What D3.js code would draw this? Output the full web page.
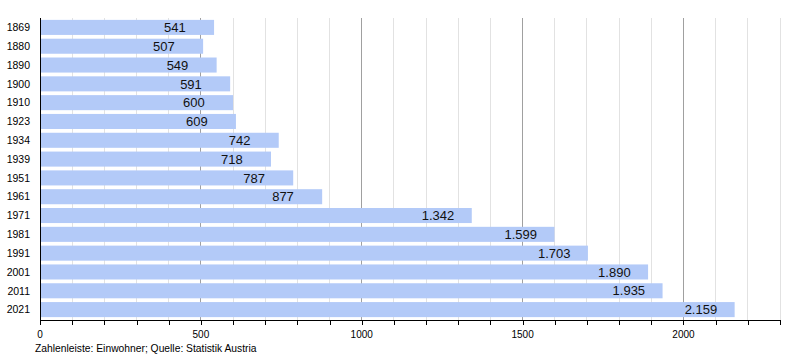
<!DOCTYPE html>
<html><head><meta charset="utf-8">
<script src="https://cdn.jsdelivr.net/npm/d3@7"></script>
<style>body{margin:0;background:#fff}svg{display:block;font-family:"Liberation Sans",Arial,sans-serif}</style>
</head><body><svg id="c" width="800" height="360"></svg>
<script>
const years = ["1869","1880","1890","1900","1910","1923","1934","1939","1951","1961","1971","1981","1991","2001","2011","2021"];
const population = [541,507,549,591,600,609,742,718,787,877,1342,1599,1703,1890,1935,2159];
const majorTicks = [0,500,1000,1500,2000];
const footer = "Zahlenleiste: Einwohner; Quelle: Statistik Austria";

const svg = d3.select("#c");
const x = d3.scaleLinear().domain([0,2300]).range([40,780]);
const y = d3.scaleBand().domain(years).range([18,319]).paddingInner(0.2).paddingOuter(0.1);
const fmt = v => v >= 1000 ? d3.format(",")(v).replace(",", ".") : String(v);

// grid
const minor = d3.range(100,2301,100);
svg.append("g").selectAll("line").data(minor).join("line")
  .attr("x1",d=>x(d)).attr("x2",d=>x(d)).attr("y1",18).attr("y2",320)
  .attr("stroke",d=>d%500===0?"#a0a0a0":"#e2e2e2").attr("stroke-width",1)
  .attr("shape-rendering","crispEdges");

// bars
svg.append("g").selectAll("rect").data(years).join("rect")
  .attr("x",x(0)).attr("y",d=>y(d)).attr("height",y.bandwidth())
  .attr("width",(d,i)=>x(population[i])-x(0)).attr("fill","#b3caf8");

// value labels
svg.append("g").selectAll("text").data(years).join("text")
  .attr("x",(d,i)=>x(population[i])-50).attr("y",d=>y(d)+y.bandwidth()/2)
  .attr("dy","0.36em").attr("font-size",13).attr("fill","#111")
  .text((d,i)=>fmt(population[i]));

// y labels
svg.append("g").selectAll("text").data(years).join("text")
  .attr("x",30).attr("y",d=>y(d)+y.bandwidth()/2).attr("dy","0.36em")
  .attr("text-anchor","end").attr("font-size",10.5).attr("fill","#000").text(d=>d);

// y axis line
svg.append("line").attr("x1",40.5).attr("x2",40.5).attr("y1",18).attr("y2",320).attr("stroke","#000");

// x axis
const xa = svg.append("g").attr("transform","translate(0,320)");
xa.append("line").attr("x1",40).attr("x2",780).attr("y1",0.5).attr("y2",0.5).attr("stroke","#000");
xa.selectAll("line.t").data(d3.range(0,2301,100)).join("line").attr("class","t")
  .attr("x1",d=>Math.round(x(d))+0.5).attr("x2",d=>Math.round(x(d))+0.5).attr("y1",0).attr("y2",5).attr("stroke","#000");
xa.selectAll("text").data(majorTicks).join("text")
  .attr("x",d=>x(d)).attr("y",18).attr("text-anchor","middle").attr("font-size",10).text(d=>d);

svg.append("text").attr("x",35).attr("y",352).attr("font-size",10.3).text(footer);
</script></body></html>
